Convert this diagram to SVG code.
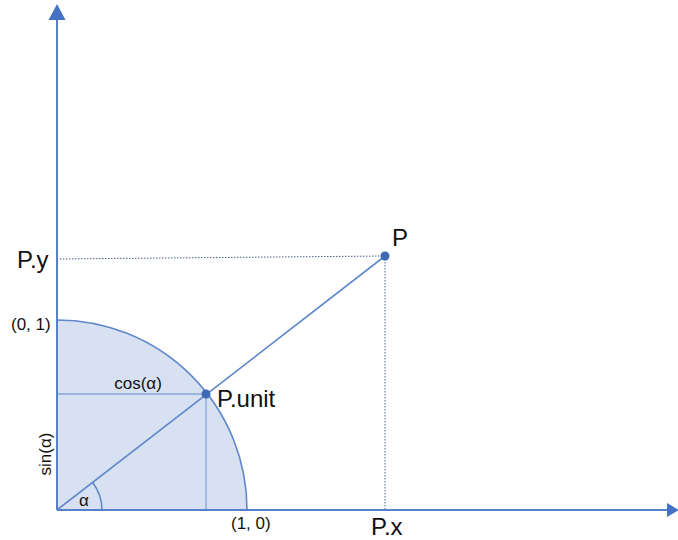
<svg xmlns="http://www.w3.org/2000/svg" width="678" height="540" viewBox="0 0 678 540">
<style>
.ax{stroke:#5681c9;stroke-width:2;fill:none}
.ln{stroke:#5f88cc;stroke-width:1.6;fill:none}
.thin{stroke:#86a4d6;stroke-width:1.3;fill:none}
.dot{stroke:#4a5f8a;stroke-width:1;stroke-dasharray:1.5 1.5;fill:none}
.t{font-family:"Liberation Sans",Arial,sans-serif;fill:#111}
.big{font-size:24px}
.sm{font-size:17px}
.pt{fill:#3f68b5}
</style>
<rect width="678" height="540" fill="#fff"/>
<g id="unit-quarter">
<path d="M57,510 L57,320 A190,190 0 0 1 247,510 Z" fill="#d7e1f2" stroke="none"/>
<path d="M57,320 A190,190 0 0 1 247,510" class="ln"/>
</g>
<g id="connectors">
<line x1="57" y1="394" x2="206" y2="394" class="thin"/>
<line x1="206" y1="394" x2="206" y2="510" class="thin"/>
<line x1="57" y1="510" x2="385" y2="256" class="ln"/>
<path d="M102,510 A45,45 0 0 0 92.6,482.4" class="ln"/>
<line x1="57" y1="259" x2="385" y2="256" class="dot"/>
<line x1="385" y1="256" x2="385" y2="510" class="dot"/>
</g>
<g id="axes">
<line x1="57" y1="510" x2="57" y2="18" class="ax"/>
<polygon points="57,4 48.5,20 65.5,20" fill="#4472c4"/>
<line x1="57" y1="510" x2="668" y2="510" class="ax"/>
<polygon points="679,510 667,503 667,517" fill="#4472c4"/>
</g>
<g id="P"><circle cx="385" cy="256" r="4.5" class="pt"/><text x="392" y="246" class="t big">P</text></g>
<g id="P-unit"><circle cx="206" cy="394" r="4.5" class="pt"/><text x="217" y="407" class="t big">P.unit</text></g>
<g id="labels">
<text x="17" y="268" class="t big">P.y</text>
<text x="371" y="535" class="t big">P.x</text>
<text x="11" y="330" class="t sm">(0, 1)</text>
<text x="231" y="529" class="t sm">(1, 0)</text>
<text x="138" y="389" class="t sm" text-anchor="middle">cos(α)</text>
<text x="0" y="0" class="t sm" text-anchor="middle" transform="translate(51,454) rotate(-90)">sin(α)</text>
<text x="84" y="506" class="t sm" text-anchor="middle">α</text>
</g>
</svg>
